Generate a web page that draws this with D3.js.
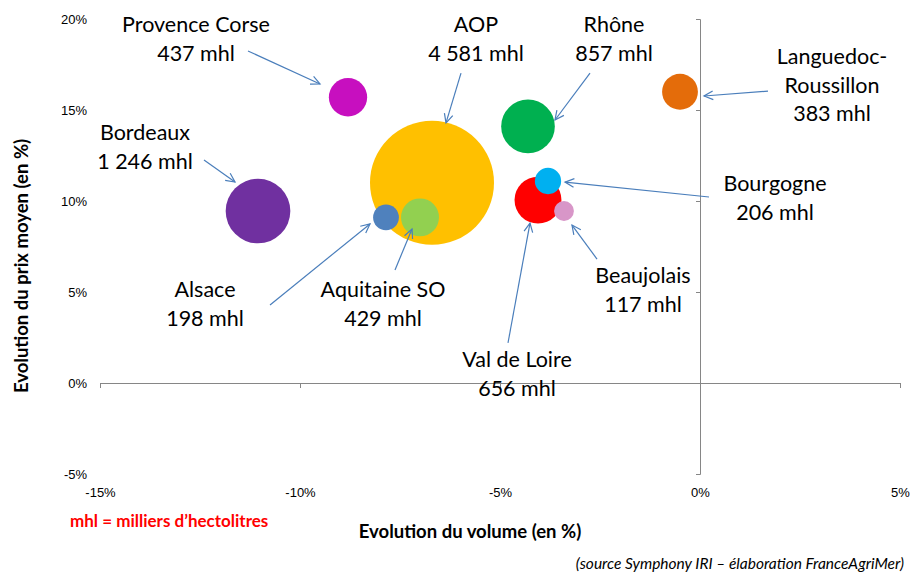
<!DOCTYPE html>
<html>
<head>
<meta charset="utf-8">
<script src="https://cdn.jsdelivr.net/npm/d3@7"></script>
<style>
  body { margin: 0; background: #fff; }
  svg { font-family: Lato, "Open Sans", sans-serif; }
  .tick text { font-size: 13px; fill: #000; }
  .domain, .tick line { stroke: #868686; }
</style>
</head>
<body>
<svg id="chart" width="910" height="572"></svg>
<script>
// regions, volume change (%), price change (%), volume (mhl)
const regions = ["AOP", "Bordeaux", "Rhône", "Val de Loire", "Provence Corse", "Aquitaine SO",
  "Languedoc-Roussillon", "Bourgogne", "Alsace", "Beaujolais"];
const volumeChange = [-6.7, -11.05, -4.3, -4.05, -8.8, -7.0, -0.5, -3.8, -7.85, -3.4];
const priceChange = [11.0, 9.45, 14.1, 10.05, 15.7, 9.1, 16.0, 11.1, 9.1, 9.45];
const volumes = [4581, 1246, 857, 656, 437, 429, 383, 206, 198, 117];
const volumeLabels = ["4 581 mhl", "1 246 mhl", "857 mhl", "656 mhl", "437 mhl", "429 mhl",
  "383 mhl", "206 mhl", "198 mhl", "117 mhl"];
const colours = ["#ffc000", "#7030a0", "#00b050", "#ff0000", "#c70fbf", "#92d050",
  "#e46c0a", "#00b0f0", "#4f81bd", "#d896c8"];

const xTicks = [-15, -10, -5, 0, 5];
const yTicks = [-5, 0, 5, 10, 15, 20];

// annotation layout (in data units): label centre, arrow start, arrow end
const labelAt = [[-5.6, 18.9], [-13.875, 12.97], [-2.15, 18.9], [-4.575, 0.49], [-12.6, 18.9],
  [-7.925, 4.34], [3.3, 16.37], [1.875, 10.16], [-12.375, 4.34], [-1.425, 5.11]];
const arrowFrom = [[-5.975, 17.03], [-12.4, 12.25], [-2.75, 17.03], [-4.8, 2.2], [-11.3, 18.24],
  [-7.625, 6.21], [1.7, 16.04], [0.225, 10.22], [-10.75, 4.29], [-2.575, 6.81]];
const arrowTo = [[-6.35, 14.29], [-11.625, 11.04], [-3.625, 14.45], [-4.25, 8.79], [-9.5, 16.43],
  [-7.2, 8.46], [0.1, 15.77], [-3.375, 11.04], [-8.25, 8.74], [-3.2, 8.68]];

const svg = d3.select("#chart");

const x = d3.scaleLinear().domain([-15, 5]).range([100, 900]);
const y = d3.scaleLinear().domain([-5, 20]).range([474, 19]);
const r = d3.scaleSqrt().domain([0, 4581]).range([0, 62]);

// axes cross at 0, tick labels pushed to the plot edges
svg.append("g")
  .attr("transform", `translate(0,${y(0)})`)
  .call(d3.axisBottom(x).tickValues(xTicks).tickSize(5).tickPadding(y(-5) - y(0) + 9)
    .tickFormat(d => d + "%"));

svg.append("g")
  .attr("transform", `translate(${x(0)},0)`)
  .call(d3.axisLeft(y).tickValues(yTicks).tickSize(4).tickPadding(x(0) - x(-15) + 9)
    .tickFormat(d => d + "%"));

// bubbles, biggest first so small ones stay visible
const idx = d3.range(regions.length).sort((a, b) => volumes[b] - volumes[a]);
svg.append("g")
  .selectAll("circle")
  .data(idx)
  .join("circle")
  .attr("cx", i => x(volumeChange[i]))
  .attr("cy", i => y(priceChange[i]))
  .attr("r", i => r(volumes[i]))
  .attr("fill", i => colours[i]);

// arrows
const arrows = svg.append("g")
  .attr("stroke", "#4a7ebb")
  .attr("stroke-width", 1.2)
  .attr("fill", "none");

regions.forEach((name, i) => {
  const x1 = x(arrowFrom[i][0]), y1 = y(arrowFrom[i][1]);
  const x2 = x(arrowTo[i][0]), y2 = y(arrowTo[i][1]);
  arrows.append("line").attr("x1", x1).attr("y1", y1).attr("x2", x2).attr("y2", y2);
  const a = Math.atan2(y2 - y1, x2 - x1);
  const len = 10, spread = 0.45;
  const head = [
    [x2 - len * Math.cos(a - spread), y2 - len * Math.sin(a - spread)],
    [x2, y2],
    [x2 - len * Math.cos(a + spread), y2 - len * Math.sin(a + spread)]
  ];
  arrows.append("path").attr("d", d3.line()(head));
});

// labels
regions.forEach((name, i) => {
  const lines = name === "Languedoc-Roussillon"
    ? ["Languedoc-", "Roussillon", volumeLabels[i]]
    : [name, volumeLabels[i]];
  const lh = 28.5;
  const cy = y(labelAt[i][1]);
  const t = svg.append("text")
    .attr("text-anchor", "middle")
    .attr("font-size", 21.5)
    .attr("fill", "#000");
  lines.forEach((l, k) => {
    t.append("tspan")
      .attr("x", x(labelAt[i][0]))
      .attr("y", cy + (k - (lines.length - 1) / 2) * lh + 7.5)
      .text(l);
  });
});

// titles
svg.append("text")
  .attr("x", 470).attr("y", 538)
  .attr("text-anchor", "middle")
  .attr("font-size", 18.5).attr("font-weight", "bold")
  .text("Evolution du volume (en %)");

svg.append("text")
  .attr("transform", "translate(28,266) rotate(-90)")
  .attr("text-anchor", "middle")
  .attr("font-size", 18.5).attr("font-weight", "bold")
  .text("Evolution du prix moyen (en %)");

svg.append("text")
  .attr("x", 70).attr("y", 527)
  .attr("font-size", 17).attr("font-weight", "bold")
  .attr("fill", "#ff0000")
  .text("mhl = milliers d’hectolitres");

svg.append("text")
  .attr("x", 904).attr("y", 569)
  .attr("text-anchor", "end")
  .attr("font-size", 15.5).attr("font-style", "italic")
  .text("(source Symphony IRI – élaboration FranceAgriMer)");
</script>
</body>
</html>
